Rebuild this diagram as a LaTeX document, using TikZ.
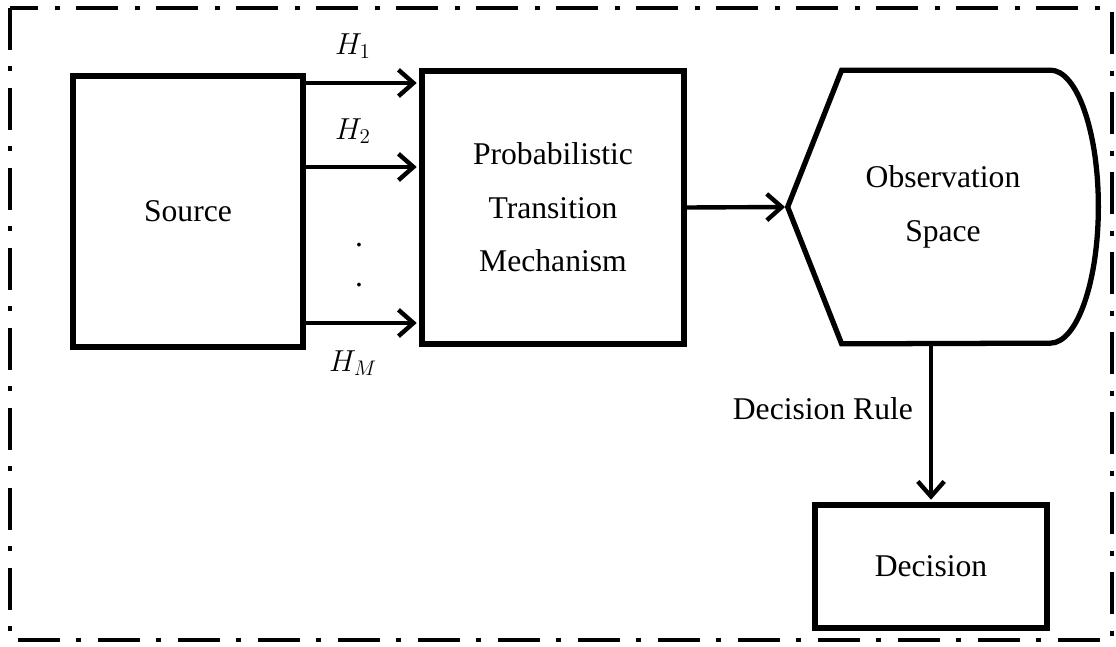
\documentclass[tikz,border=0pt]{standalone}
\usepackage{fontspec}
\setmainfont{Liberation Serif}
\usetikzlibrary{arrows.meta,positioning}

\begin{document}
\begin{tikzpicture}[
            > = {Straight Barb[length=8.5pt,width=15pt]}, % open arrow head
            shorten > = 1.5pt, % stop at the outer edge of the box line
            txt/.style = {font=\fontsize{18}{30.5}\selectfont, align=center},
            block/.style = {draw, line width=3pt, txt},
            flow/.style = {->, line width=2.5pt},
            hyp/.style = {font=\fontsize{18}{20}\selectfont}
        ]
	\useasboundingbox (0,0) rectangle (22.32,-12.94);

	% outer frame
	\draw[line width=2.8pt, dash pattern=on 0.84cm off 0.32cm on 0.1cm off 0.34cm]
		(0.2,-0.16) rectangle (22.24,-12.8);

	\node[block, minimum width=4.6cm, minimum height=5.42cm] (source) at (3.76,-4.23) {Source};
	\node[block, minimum width=5.24cm, minimum height=5.46cm] (ptm) at (11.06,-4.15) {Probabilistic\\Transition\\Mechanism};
	\node[txt, minimum width=6.2cm, minimum height=5.46cm, inner sep=0pt] (obs) at (18.86,-4.14) {Observation\\Space};
	\node[block, minimum width=4.64cm, minimum height=2.46cm] (decision) at (18.62,-11.33) {Decision};

	% outline of the observation space
	\draw[line width=3pt] (obs.west) -- ([xshift=1.08cm]obs.north west) -- ([xshift=-0.96cm]obs.north east)
		arc[start angle=90, end angle=-90, x radius=0.96cm, y radius=2.73cm]
		-- ([xshift=1.08cm]obs.south west) -- cycle;

	% hypotheses
	\draw[flow] (source.east |- 0,-1.66) -- (ptm.west |- 0,-1.66);
	\draw[flow] (source.east |- 0,-3.34) -- (ptm.west |- 0,-3.34);
	\draw[flow] (source.east |- 0,-6.46) -- (ptm.west |- 0,-6.46);
	\node[hyp] (h1) at (7.06,-0.92) {$H_1$};
	\node[hyp] (h2) at (7.06,-2.62) {$H_2$};
	\node[hyp] (hm) at (7.06,-7.26) {$H_M$};
	\node[txt] (dot1) at (7.18,-4.9) {.};
	\node[txt] (dot2) at (7.18,-5.7) {.};

	\draw[flow] (ptm.east) -- (obs.west);
	\draw[flow] (decision.north |- obs.south) -- (decision.north)
		node[txt, pos=0.41, left=0.2cm] (rule) {Decision Rule};

\end{tikzpicture}
\end{document}
